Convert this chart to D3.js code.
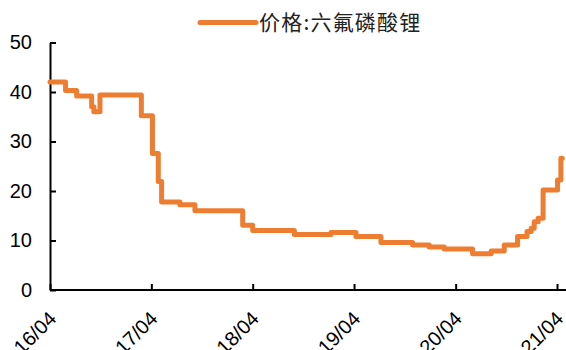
<!DOCTYPE html>
<html>
<head>
<meta charset="utf-8">
<script src="https://cdn.jsdelivr.net/npm/d3@7"></script>
<style>
  html, body { margin: 0; padding: 0; background: #fff; }
  svg { display: block; }
</style>
</head>
<body>
<svg id="chart" width="566" height="350"></svg>
<script>
// Price of lithium hexafluorophosphate (万元/吨), dates where the quoted price changes
const seriesName = "价格:六氟磷酸锂";
const changeDates = [
  "2016-04-01", "2016-05-27", "2016-07-06", "2016-08-29", "2016-09-06",
  "2016-09-28", "2017-02-24", "2017-04-05", "2017-04-26", "2017-05-08",
  "2017-07-13", "2017-09-05", "2018-02-24", "2018-04-01", "2018-08-29",
  "2019-01-08", "2019-04-08", "2019-07-07", "2019-10-29", "2019-12-28",
  "2020-02-20", "2020-06-01", "2020-08-07", "2020-09-23", "2020-11-10",
  "2020-12-14", "2020-12-29", "2021-01-09", "2021-01-23", "2021-02-10",
  "2021-04-03", "2021-04-15", "2021-04-20"
];
const prices = [
  42.0, 40.3, 39.2, 37.0, 36.0,
  39.4, 35.2, 27.6, 21.9, 17.8,
  17.2, 16.0, 13.1, 12.0, 11.2,
  11.6, 10.8, 9.6, 9.1, 8.7,
  8.3, 7.3, 7.9, 9.1, 10.8,
  11.8, 12.5, 13.8, 14.5, 20.2,
  22.2, 26.6, 26.6
];
const yTicks = [0, 10, 20, 30, 40, 50];
const xTickDates = ["2016-04-01", "2017-04-01", "2018-04-01", "2019-04-01", "2020-04-01", "2021-04-01"];

const parse = d3.timeParse("%Y-%m-%d");
const data = changeDates.map((d, i) => ({ date: parse(d), value: prices[i] }));

const svg = d3.select("#chart");
const color = "#ED7D31";

const x = d3.scaleTime()
  .domain([parse("2016-04-01"), parse("2021-04-01")])
  .range([50, 557]);
const y = d3.scaleLinear()
  .domain([0, 50])
  .range([290, 42.5]);

// y axis: ticks pointing into the plot
const yAxis = svg.append("g")
  .attr("transform", "translate(50,0)")
  .call(d3.axisLeft(y).tickValues(yTicks).tickSizeInner(-6).tickSizeOuter(0).tickPadding(18));
yAxis.select(".domain").attr("stroke", "#000").attr("stroke-width", 2);
yAxis.selectAll(".tick line").attr("stroke", "#000").attr("stroke-width", 2);
yAxis.selectAll(".tick text")
  .attr("font-family", "Liberation Sans, Arial, sans-serif")
  .attr("font-size", 20)
  .attr("fill", "#000");

// x axis with rotated date labels
const xAxis = svg.append("g")
  .attr("transform", "translate(0,290)")
  .call(d3.axisBottom(x)
    .tickValues(xTickDates.map(parse))
    .tickFormat(d3.timeFormat("%y/%m"))
    .tickSizeInner(-6).tickSizeOuter(0));
xAxis.select(".domain").attr("stroke", "#000").attr("stroke-width", 2)
  .attr("d", "M50,0H566");
xAxis.selectAll(".tick line").attr("stroke", "#000").attr("stroke-width", 2);
xAxis.selectAll(".tick text")
  .attr("font-family", "Liberation Sans, Arial, sans-serif")
  .attr("font-size", 20)
  .attr("fill", "#000")
  .attr("text-anchor", "end")
  .attr("dy", null)
  .attr("y", null)
  .attr("transform", "translate(7,30) rotate(-45)");

// price line
const line = d3.line()
  .x(d => x(d.date))
  .y(d => y(d.value))
  .curve(d3.curveStepAfter);

svg.append("path")
  .datum(data)
  .attr("fill", "none")
  .attr("stroke", color)
  .attr("stroke-width", 5)
  .attr("stroke-linejoin", "round")
  .attr("stroke-linecap", "round")
  .attr("d", line);

// legend
const legend = svg.append("g");
legend.append("line")
  .attr("x1", 200).attr("x2", 256)
  .attr("y1", 22.5).attr("y2", 22.5)
  .attr("stroke", color)
  .attr("stroke-width", 5)
  .attr("stroke-linecap", "round");
legend.append("text")
  .attr("x", 259)
  .attr("y", 30)
  .attr("font-family", "Noto Sans CJK SC, sans-serif")
  .attr("font-size", 21)
  .attr("letter-spacing", 1.2)
  .attr("fill", "#222")
  .text(seriesName);
</script>
</body>
</html>
